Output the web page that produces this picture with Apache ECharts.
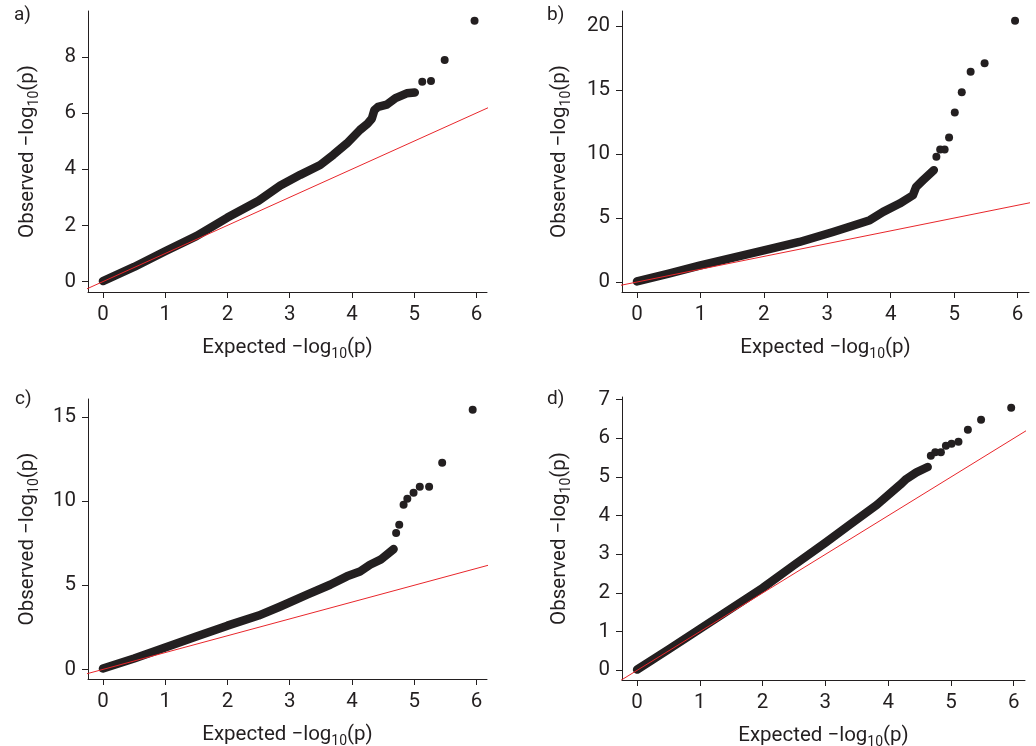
<!DOCTYPE html>
<html>
<head>
<meta charset="utf-8">
<script src="https://cdn.jsdelivr.net/npm/echarts@6/dist/echarts.min.js"></script>
<style>
html,body{margin:0;padding:0;background:#fff;}
#chart{width:1036px;height:746px;}
</style>
</head>
<body>
<div id="chart"></div>
<script>
// ---- Data (expected vs observed -log10 p) ----
const xTicks = [0, 1, 2, 3, 4, 5, 6];
const yTicksA = [0, 2, 4, 6, 8];
const yTicksB = [0, 5, 10, 15, 20];
const yTicksC = [0, 5, 10, 15];
const yTicksD = [0, 1, 2, 3, 4, 5, 6, 7];

// dense part of each QQ plot (thousands of overlapping points drawn as a band)
const bandA = [[0,0.02],[0.5,0.52],[1,1.08],[1.5,1.62],[2,2.28],[2.5,2.88],[2.85,3.42],[3.17,3.8],[3.49,4.15],[3.7,4.51],[3.92,4.92],[4.13,5.4],[4.25,5.62],[4.32,5.8],[4.36,6.1],[4.42,6.22],[4.56,6.3],[4.7,6.53],[4.88,6.7],[5.01,6.73]];
const tailA = [[5.13,7.11],[5.27,7.14],[5.49,7.89],[5.97,9.28]];

const bandB = [[0,0.05],[0.5,0.65],[1,1.3],[1.5,1.88],[2,2.48],[2.56,3.13],[3.09,3.91],[3.4,4.4],[3.67,4.83],[3.88,5.48],[4.14,6.13],[4.35,6.78],[4.4,7.43],[4.51,7.96],[4.68,8.74]];
const tailB = [[4.72,9.78],[4.78,10.36],[4.85,10.36],[4.92,11.3],[5.01,13.25],[5.12,14.84],[5.26,16.43],[5.48,17.09],[5.96,20.42]];

const bandC = [[0,0.05],[0.5,0.65],[1,1.3],[1.5,1.95],[2,2.6],[2.5,3.2],[2.85,3.74],[3.28,4.44],[3.65,5.03],[3.92,5.53],[4.13,5.82],[4.29,6.22],[4.46,6.52],[4.67,7.15]];
const tailC = [[4.71,8.1],[4.76,8.6],[4.83,9.79],[4.89,10.14],[4.99,10.5],[5.09,10.86],[5.24,10.86],[5.45,12.28],[5.94,15.43]];

const bandD = [[0,0.02],[0.5,0.54],[1,1.07],[1.5,1.6],[2,2.13],[2.5,2.72],[3,3.3],[3.39,3.77],[3.82,4.28],[4.19,4.8],[4.29,4.95],[4.45,5.12],[4.63,5.26]];
const tailD = [[4.68,5.55],[4.75,5.64],[4.84,5.64],[4.92,5.81],[5.01,5.86],[5.12,5.91],[5.27,6.22],[5.48,6.48],[5.96,6.79]];

const refLine = [-1, 25]; // y = x reference line endpoints (clipped by the grid)
const panelLabels = ['a)', 'b)', 'c)', 'd)'];

// ---- Styling ----
const INK = '#231f20';
const RED = '#e8262b';
const FONT = 'Roboto, "DejaVu Sans", sans-serif';

const rich = {
  t: {fontSize: 20.5, lineHeight: 26, color: INK, fontFamily: FONT},
  s: {fontSize: 14, lineHeight: 14, padding: [12, 0, 0, 0], color: INK, fontFamily: FONT}
};

const panels = [
  {grid: {left: 88, top: 11, width: 399, height: 281}, x: [-0.24, 6.17], y: [-0.37, 9.63], yt: yTicksA, band: bandA, tail: tailA},
  {grid: {left: 622, top: 11, width: 407, height: 281}, x: [-0.236, 6.18], y: [-0.78, 21.18], yt: yTicksB, band: bandB, tail: tailB},
  {grid: {left: 88, top: 399, width: 399, height: 280}, x: [-0.24, 6.17], y: [-0.57, 16.07], yt: yTicksC, band: bandC, tail: tailC},
  {grid: {left: 622, top: 397, width: 403, height: 283}, x: [-0.24, 6.18], y: [-0.25, 7.07], yt: yTicksD, band: bandD, tail: tailD}
];

const grids = [], xAxes = [], yAxes = [], series = [], graphics = [];
const labelPos = [[14, 6], [547, 6], [15, 390], [547, 390]];

panels.forEach((p, i) => {
  grids.push(Object.assign({containLabel: false, outerBoundsMode: 'none'}, p.grid));
  const axisCommon = {
    axisLine: {show: true, onZero: false, lineStyle: {color: INK, width: 1}},
    axisTick: {show: true, inside: false, length: 6, lineStyle: {color: INK, width: 1}},
    splitLine: {show: false},
    nameLocation: 'middle',
    nameTextStyle: {rich: rich}
  };
  xAxes.push(Object.assign({}, axisCommon, {
    type: 'value', gridIndex: i, min: p.x[0], max: p.x[1],
    axisTick: Object.assign({}, axisCommon.axisTick, {customValues: xTicks}),
    axisLabel: {customValues: xTicks, color: INK, fontSize: 20.5, fontFamily: FONT, margin: 12},
    name: '{t|Expected −log}{s|10}{t|(p)}', nameGap: 43
  }));
  yAxes.push(Object.assign({}, axisCommon, {
    type: 'value', gridIndex: i, min: p.y[0], max: p.y[1],
    axisTick: Object.assign({}, axisCommon.axisTick, {customValues: p.yt}),
    axisLabel: {customValues: p.yt, color: INK, fontSize: 20.5, fontFamily: FONT, margin: 12},
    name: '{t|Observed −log}{s|10}{t|(p)}', nameRotate: 90, nameGap: i % 2 === 0 ? 47 : 49
  }));
  series.push({
    type: 'line', xAxisIndex: i, yAxisIndex: i, data: p.band, showSymbol: false, symbol: 'none',
    lineStyle: {color: INK, width: 8.5, cap: 'round', join: 'round', opacity: 1}, z: 2, silent: true
  });
  series.push({
    type: 'scatter', xAxisIndex: i, yAxisIndex: i, data: p.tail, symbol: 'circle', symbolSize: 8,
    itemStyle: {color: INK, opacity: 1}, z: 2, silent: true
  });
  series.push({
    type: 'line', xAxisIndex: i, yAxisIndex: i, data: refLine.map(v => [v, v]), showSymbol: false, symbol: 'none',
    lineStyle: {color: RED, width: 1}, clip: true, z: 3, silent: true
  });
  graphics.push({
    type: 'text', left: labelPos[i][0], top: labelPos[i][1],
    style: {text: panelLabels[i], fill: INK, font: '19px ' + FONT}
  });
});

const chart = echarts.init(document.getElementById('chart'), null, {renderer: 'canvas'});
chart.setOption({
  animation: false,
  backgroundColor: '#fff',
  grid: grids,
  xAxis: xAxes,
  yAxis: yAxes,
  series: series,
  graphic: graphics
});
</script>
</body>
</html>
